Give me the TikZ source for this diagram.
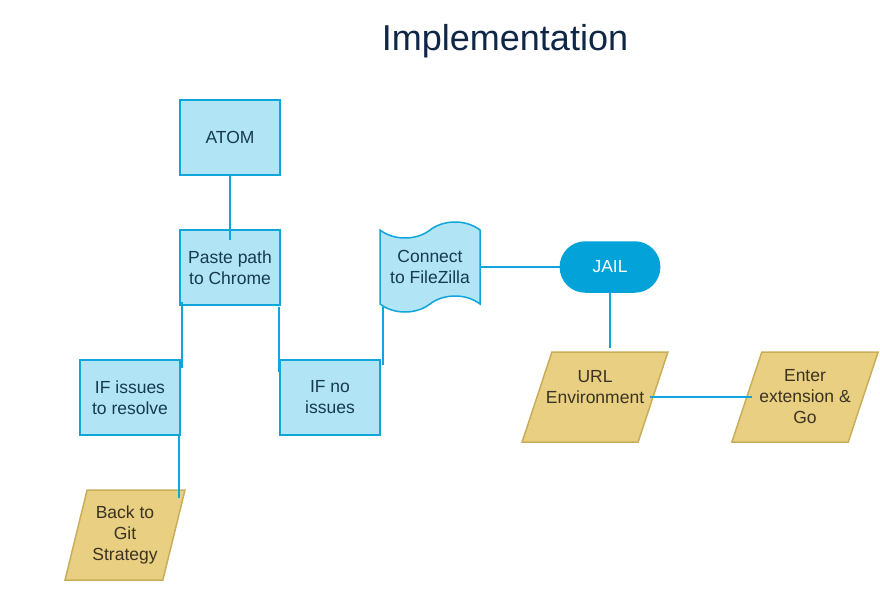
\documentclass[tikz,border=0pt]{standalone}
\usepackage{fontspec}
\setmainfont{Liberation Sans}
\usetikzlibrary{%
  shapes.misc,% wg. rounded rectangle
  shapes.geometric,%
  shapes.symbols% wg. tape
}
\definecolor{boxblue}{HTML}{B1E4F4}
\definecolor{lineblue}{HTML}{10A5DB}
\definecolor{jailblue}{HTML}{03A3DA}
\definecolor{sand}{HTML}{E9CF82}
\definecolor{sandline}{HTML}{C9AE5A}
\definecolor{bluetext}{HTML}{163A50}
\definecolor{sandtext}{HTML}{3A3322}
\definecolor{titletext}{HTML}{0F2747}
\begin{document}
\begin{tikzpicture}[
  x=1pt, y=-1pt,
  font=\fontsize{17.5}{21}\selectfont, line width=1.5pt,
  stepbox/.style={rectangle, minimum height=75pt, minimum width=100pt, draw=lineblue, fill=boxblue, text=bluetext, align=center, inner sep=2pt, outer sep=0pt},
  tapebox/.style={tape, minimum height=90pt, minimum width=100pt, tape bend height=16pt, draw=lineblue, fill=boxblue, text=bluetext, align=center, inner sep=2pt, outer sep=0pt},
  terminal/.style={rounded rectangle, minimum height=50pt, minimum width=106pt, fill=jailblue, text=white, draw=jailblue, outer sep=0pt},
  iobox/.style={trapezium, trapezium left angle=72, trapezium right angle=108, trapezium stretches=true, minimum height=90pt, minimum width=120pt, draw=sandline, fill=sand, text=sandtext, align=center, inner sep=1pt, outer sep=0pt},
  iowide/.style={iobox, trapezium left angle=62, trapezium right angle=118},
  link/.style={draw=lineblue, line width=1.5pt}
]
\useasboundingbox (0,0) rectangle (880,600);

\node[text=titletext, font=\fontsize{36}{40}\selectfont] (title) at (505,41) {Implementation};

\node[stepbox] (atom) at (230,137.5) {ATOM};
\node[stepbox] (paste) at (230,267.5) {Paste path\\to Chrome};
\node[stepbox] (ifissues) at (130,397.5) {IF issues\\to resolve};
\node[stepbox] (ifno) at (330,397.5) {IF no\\issues};
\node[tapebox] (connect) at (430,267) {Connect\\to FileZilla};
\node[terminal] (jail) at (610,267) {JAIL};

\node[iowide, inner xsep=-6pt] (url) at (595,397) {URL\\Environment\\\mbox{}};
\node[iowide, inner xsep=-2.5pt] (enter) at (805,397) {Enter\\extension \&\\Go};
\node[iobox] (back) at (125,535) {Back to\\Git\\Strategy};

\draw[link] (atom.south) -- ([yshift=-10pt]paste.north);
\draw[link] ([xshift=2pt,yshift=3pt]paste.south west) -- ([xshift=2pt,yshift=-8pt]ifissues.north east);
\draw[link] ([xshift=-1pt,yshift=-2pt]paste.south east) -- ([xshift=-1pt,yshift=-12pt]ifno.north west);
\draw[link] ([xshift=3pt,yshift=-5pt]ifno.north east) -- ([xshift=3pt,yshift=-40pt]ifno.north east |- connect.west);
\draw[link] (connect.east) -- (jail.west);
\draw[link] (jail.south) -- ([yshift=4pt]jail.south |- url.north);
\draw[link] ([xshift=55pt]url.center) -- ([xshift=-53pt]enter.center);
\draw[link] ([xshift=-1pt]ifissues.south east) -- ([xshift=-1pt,yshift=-8pt]ifissues.south east |- back.north);

\end{tikzpicture}
\end{document}
